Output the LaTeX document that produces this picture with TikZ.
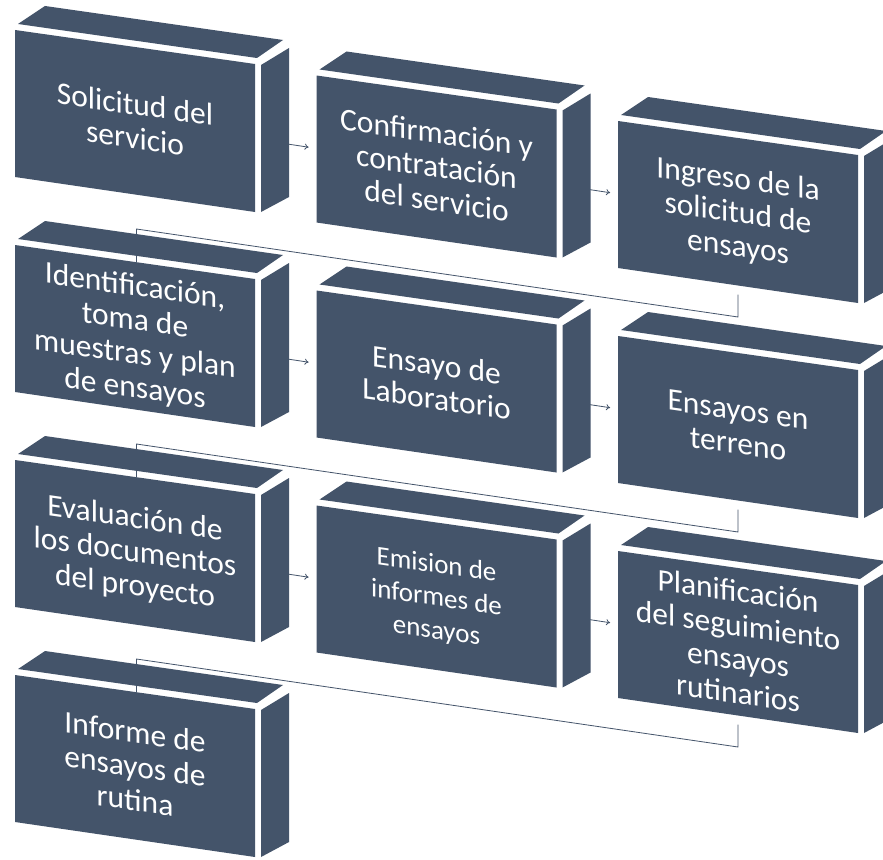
\documentclass[tikz,border=0pt]{standalone}
\usepackage{fontspec}
\setmainfont{Carlito}
\usetikzlibrary{calc,arrows.meta,backgrounds}
\definecolor{slate}{HTML}{44546A}
% \pcube{name}{X}{Y}{extra node style}{text}
\newcommand\pcube[5]{%
  \begin{scope}[shift={(#2,#3)}]
    \fill[face] (0,0) -- (240,34) -- (240,182) -- (0,147) -- cycle;
    \fill[face] (3,-6) -- (242,28) -- (268,10) -- (30,-24) -- cycle;
    \fill[face] (246,35) -- (274,18) -- (274,167) -- (246,182) -- cycle;
    \coordinate (#1-c) at (120,91);
    \coordinate (#1-bot) at (120,173.5);
    \coordinate (#1-dn) at (120,196);
    \coordinate (#1-up) at (121.5,-16);
    \coordinate (#1-top) at (121.5,17);
    \node[txt,#4] (#1) at (120,91) {#5};
  \end{scope}}
\begin{document}
\begin{tikzpicture}[x=1pt,y=-1pt,
  face/.style={fill=slate},
  txt/.style={text=white, align=center, inner sep=0pt, yslant=-0.143,
    font=\fontsize{31.5}{34}\selectfont,
    execute at begin node=\strut, execute at end node=\strut, yshift=-5pt},
  small/.style={font=\fontsize{27}{33}\selectfont},
  link/.style={draw=slate, line width=0.8pt},
  arr/.style={link, -{To[length=4pt,width=6pt]}}]
\clip (0,0) rectangle (883,859);
\begin{pgfonlayer}{background}
  \fill[white] (0,0) rectangle (883,859);
\end{pgfonlayer}
% row 1
\pcube{b1}{15}{30}{}{Solicitud del\\servicio}
\pcube{b2}{316.5}{75.5}{}{Confirmación y\\contratación\\del servicio}
\pcube{b3}{618}{121}{}{Ingreso de la\\solicitud de\\ensayos}
% row 2
\pcube{b4}{15}{245}{}{Identificación,\\toma de\\muestras y plan\\de ensayos}
\pcube{b5}{316.5}{290.5}{}{Ensayo de\\Laboratorio}
\pcube{b6}{618}{336}{}{Ensayos en\\terreno}
% row 3
\pcube{b7}{15}{460}{}{Evaluación de\\los documentos\\del proyecto}
\pcube{b8}{316.5}{505.5}{small}{Emision de\\informes de\\ensayos}
\pcube{b9}{618}{551}{}{Planificación\\del seguimiento\\ensayos\\rutinarios}
% row 4
\pcube{b10}{15}{675}{}{Informe de\\ensayos de\\rutina}
\begin{pgfonlayer}{background}
  \foreach \a/\b in {b1/b2,b2/b3,b4/b5,b5/b6,b7/b8,b8/b9}{
    \draw[arr] ($(\a-c)!0.507!(\b-c)$) -- ($(\a-c)!0.576!(\b-c)$);
  }
  \foreach \a/\b in {b3/b4,b6/b7,b9/b10}{
    \draw[link] (\a-bot) -- (\a-dn) -- (\b-up) -- (\b-top);
  }
\end{pgfonlayer}
\end{tikzpicture}
\end{document}
